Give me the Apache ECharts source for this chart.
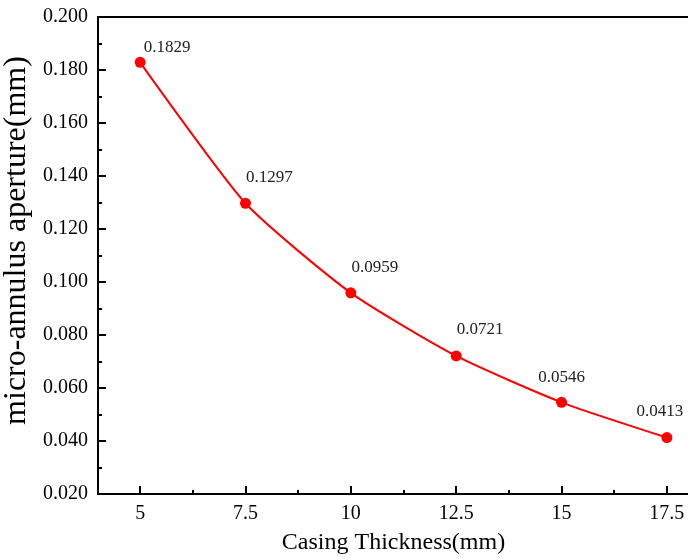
<!DOCTYPE html>
<html>
<head>
<meta charset="utf-8">
<title>micro-annulus aperture</title>
<script src="https://cdn.jsdelivr.net/npm/echarts@6/dist/echarts.min.js"></script>
<style>
    html, body { margin: 0; padding: 0; background: #fff; }
    #chart { width: 688px; height: 559px; }
</style>
</head>
<body>
<div id="chart"></div>
<script>
// 数据
var thickness = [5, 7.5, 10, 12.5, 15, 17.5];
var aperture = [0.1829, 0.1297, 0.0959, 0.0721, 0.0546, 0.0413];
var xMajorTicks = [5, 7.5, 10, 12.5, 15, 17.5];
var xMinorTicks = [6.25, 8.75, 11.25, 13.75, 16.25];

// 数据标签偏移（相对于 position:'top'）
var labelOffsets = [[27, 4], [24, -7], [24, -6], [24, -7], [0, -6], [-7, -7]];

var FONT = "'Liberation Serif', 'Times New Roman', serif";

var myChart = echarts.init(document.getElementById('chart'), null, { renderer: 'canvas' });

var seriesData = [];
for (var i = 0; i < thickness.length; i++) {
    seriesData.push({
        value: [thickness[i], aperture[i]],
        label: { offset: labelOffsets[i] }
    });
}

var option = {
    backgroundColor: '#fff',
    animation: false,
    grid: {
        left: 98,
        top: 17,
        bottom: 65,
        width: 611, // 右边框在画面外
        outerBoundsMode: 'none',
        containLabel: false,
        show: true,
        borderColor: '#000',
        borderWidth: 2,
        backgroundColor: 'transparent'
    },
    xAxis: [
        {
            type: 'value',
            min: 4,
            max: 18.5,
            name: 'Casing Thickness(mm)',
            nameLocation: 'middle',
            nameGap: 37,
            nameTextStyle: { fontFamily: FONT, fontSize: 24, color: '#000', padding: [0, 20, 0, 0] },
            axisLine: { show: true, lineStyle: { color: '#000', width: 2 } },
            axisTick: { show: true, inside: true, length: 8, customValues: xMajorTicks, lineStyle: { color: '#000', width: 2 } },
            axisLabel: { customValues: xMajorTicks, margin: 10, fontFamily: FONT, fontSize: 20, color: '#000' },
            splitLine: { show: false }
        },
        {
            // 次刻度
            type: 'value',
            position: 'bottom',
            min: 4,
            max: 18.5,
            axisLine: { show: false },
            axisTick: { show: true, inside: true, length: 4, customValues: xMinorTicks, lineStyle: { color: '#000', width: 2 } },
            axisLabel: { show: false },
            splitLine: { show: false }
        }
    ],
    yAxis: {
        type: 'value',
        min: 0.02,
        max: 0.2,
        interval: 0.02,
        name: 'micro-annulus aperture(mm)',
        nameLocation: 'middle',
        nameGap: 57,
        nameTextStyle: { fontFamily: FONT, fontSize: 32, color: '#000', padding: [0, 0, 0, 30] },
        axisLine: { show: true, lineStyle: { color: '#000', width: 2 } },
        axisTick: { show: true, inside: true, length: 8, lineStyle: { color: '#000', width: 2 } },
        minorTick: { show: true, splitNumber: 2, length: 4, lineStyle: { color: '#000', width: 2 } },
        axisLabel: {
            margin: 10,
            fontFamily: FONT,
            fontSize: 20,
            color: '#000',
            formatter: function (v) { return v.toFixed(3); }
        },
        splitLine: { show: false }
    },
    series: [
        {
            type: 'line',
            data: seriesData,
            smooth: 0.2,
            symbol: 'circle',
            symbolSize: 11,
            itemStyle: { color: '#ff0000' },
            lineStyle: { color: '#ff0000', width: 2 },
            label: {
                show: true,
                position: 'top',
                fontFamily: FONT,
                fontSize: 17,
                color: '#222',
                formatter: function (p) { return p.value[1].toFixed(4); }
            }
        }
    ]
};

myChart.setOption(option);
</script>
</body>
</html>
